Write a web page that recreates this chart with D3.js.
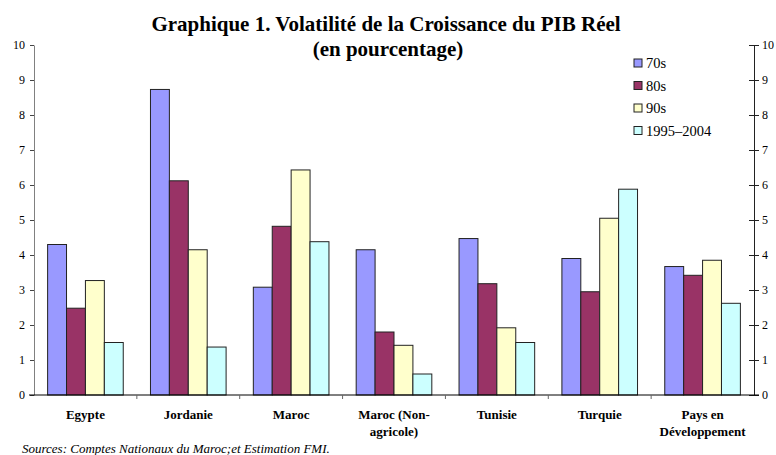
<!DOCTYPE html>
<html>
<head>
<meta charset="utf-8">
<script src="https://cdn.jsdelivr.net/npm/d3@7"></script>
<style>
  body { margin: 0; background: #fff; }
  svg { display: block; }
  svg text { font-family: "Liberation Serif", "Times New Roman", serif; }
</style>
</head>
<body>
<svg id="chart" width="776" height="455"></svg>
<script>
'use strict'

const categories = ['Egypte', 'Jordanie', 'Maroc', 'Maroc (Non-|agricole)', 'Tunisie', 'Turquie', 'Pays en|Développement']
const seriesNames = ['70s', '80s', '90s', '1995–2004']
const s70 = [4.3, 8.73, 3.08, 4.15, 4.47, 3.9, 3.67]
const s80 = [2.48, 6.12, 4.82, 1.8, 3.18, 2.95, 3.42]
const s90 = [3.27, 4.15, 6.43, 1.42, 1.92, 5.05, 3.85]
const s95 = [1.5, 1.37, 4.38, 0.6, 1.5, 5.88, 2.62]
const colors = ['#9999ff', '#993366', '#ffffcc', '#ccffff']
const yTicks = [0, 1, 2, 3, 4, 5, 6, 7, 8, 9, 10]

const series = [s70, s80, s90, s95]
const svg = d3.select('#chart')

const plotLeft = 34
const plotRight = 754
const plotTop = 45
const plotBottom = 395

const x = d3.scaleBand()
  .domain(categories)
  .range([plotLeft, plotRight])
  .paddingInner(0)
  .paddingOuter(0)

const x1 = d3.scaleBand()
  .domain(seriesNames)
  .range([0, x.bandwidth()])
  .paddingOuter(0.72)
  .paddingInner(0)

const y = d3.scaleLinear()
  .domain([0, 10])
  .range([plotBottom, plotTop])

// title
svg.append('text')
  .attr('x', 386)
  .attr('y', 31)
  .attr('text-anchor', 'middle')
  .attr('font-size', 21)
  .attr('font-weight', 'bold')
  .text('Graphique 1. Volatilité de la Croissance du PIB Réel')

svg.append('text')
  .attr('x', 388)
  .attr('y', 56)
  .attr('text-anchor', 'middle')
  .attr('font-size', 21)
  .attr('font-weight', 'bold')
  .text('(en pourcentage)')

// bars
const groups = svg.selectAll('g.group')
  .data(categories)
  .enter().append('g')
  .attr('class', 'group')
  .attr('transform', d => `translate(${x(d)},0)`)

groups.selectAll('rect')
  .data((d, i) => seriesNames.map((s, j) => ({ s, v: series[j][i], c: colors[j] })))
  .enter().append('rect')
  .attr('x', d => x1(d.s))
  .attr('y', d => y(d.v))
  .attr('width', x1.bandwidth())
  .attr('height', d => plotBottom - y(d.v))
  .attr('fill', d => d.c)
  .attr('stroke', '#222')
  .attr('stroke-width', 1)

// left axis
const yLeft = svg.append('g')
  .attr('transform', `translate(${plotLeft},0)`)
  .call(d3.axisLeft(y).tickValues(yTicks).tickSize(4).tickSizeOuter(0))
yLeft.select('.domain').attr('stroke', '#808080')
yLeft.selectAll('.tick line').attr('stroke', '#444')
yLeft.selectAll('text')
  .attr('font-size', 12)
  .attr('fill', '#000')
  .attr('x', -9)
  .attr('text-anchor', 'end')

// right axis
const yRight = svg.append('g')
  .attr('transform', `translate(${plotRight},0)`)
  .call(d3.axisRight(y).tickValues(yTicks).tickSize(5).tickSizeOuter(0))
yRight.selectAll('.tick line').attr('x1', -5).attr('x2', 5).attr('stroke', '#222')
yRight.select('.domain').attr('stroke', '#222')
yRight.selectAll('text')
  .attr('font-size', 12)
  .attr('fill', '#000')
  .attr('x', 8)

// bottom axis
const xAxis = svg.append('g')
  .attr('transform', `translate(0,${plotBottom})`)
  .call(d3.axisBottom(x).tickSize(0).tickFormat(''))
xAxis.select('.domain').attr('stroke', '#000').attr('d', `M${plotLeft - 5},0H${plotRight + 5}`)
svg.selectAll('line.cat-tick')
  .data(categories.slice(1))
  .enter().append('line')
  .attr('class', 'cat-tick')
  .attr('x1', d => x(d))
  .attr('x2', d => x(d))
  .attr('y1', plotBottom)
  .attr('y2', plotBottom + 4)
  .attr('stroke', '#666')

// category labels
svg.selectAll('text.cat')
  .data(categories)
  .enter().append('text')
  .attr('class', 'cat')
  .attr('text-anchor', 'middle')
  .attr('font-size', 13)
  .attr('font-weight', 'bold')
  .attr('x', d => x(d) + x.bandwidth() / 2)
  .attr('y', 419)
  .selectAll('tspan')
  .data(d => d.split('|'))
  .enter().append('tspan')
  .attr('x', function () { return d3.select(this.parentNode).attr('x') })
  .attr('dy', (d, i) => i === 0 ? 0 : 17)
  .text(d => d)

// legend
const legend = svg.selectAll('g.legend')
  .data(seriesNames)
  .enter().append('g')
  .attr('class', 'legend')
  .attr('transform', (d, i) => `translate(634,${63 + i * 22.5})`)

legend.append('rect')
  .attr('width', 8)
  .attr('height', 8)
  .attr('y', -4)
  .attr('fill', (d, i) => colors[i])
  .attr('stroke', '#222')

legend.append('text')
  .attr('x', 12)
  .attr('y', 5)
  .attr('font-size', 14.5)
  .text(d => d)

// source
svg.append('text')
  .attr('x', 22)
  .attr('y', 453)
  .attr('font-size', 13)
  .attr('font-style', 'italic')
  .text('Sources: Comptes Nationaux du Maroc;et Estimation FMI.')
</script>
</body>
</html>
